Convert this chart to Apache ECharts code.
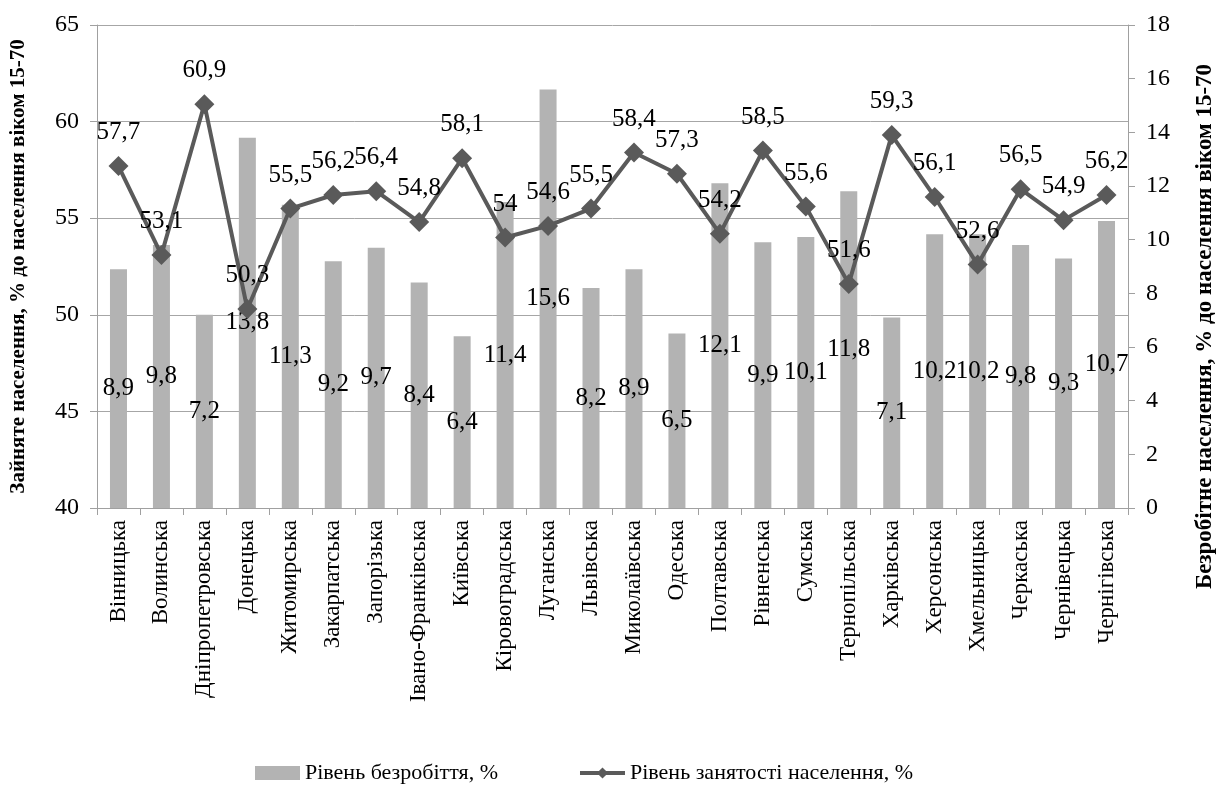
<!DOCTYPE html>
<html>
<head>
<meta charset="utf-8">
<script src="https://cdn.jsdelivr.net/npm/echarts@6/dist/echarts.min.js"></script>
<style>
  html, body { margin: 0; padding: 0; background: #fff; }
  #chart { width: 1225px; height: 792px; }
</style>
</head>
<body>
<div id="chart"></div>
<script>
// області
var regions = ["Вінницька", "Волинська", "Дніпропетровська", "Донецька", "Житомирська",
  "Закарпатська", "Запорізька", "Івано-Франківська", "Київська", "Кіровоградська",
  "Луганська", "Львівська", "Миколаївська", "Одеська", "Полтавська", "Рівненська",
  "Сумська", "Тернопільська", "Харківська", "Херсонська", "Хмельницька", "Черкаська",
  "Чернівецька", "Чернігівська"];

// рівень безробіття, %
var unemployment = [8.9, 9.8, 7.2, 13.8, 11.3, 9.2, 9.7, 8.4, 6.4, 11.4, 15.6, 8.2,
  8.9, 6.5, 12.1, 9.9, 10.1, 11.8, 7.1, 10.2, 10.2, 9.8, 9.3, 10.7];

// рівень зайнятості населення, %
var employment = [57.7, 53.1, 60.9, 50.3, 55.5, 56.2, 56.4, 54.8, 58.1, 54, 54.6, 55.5,
  58.4, 57.3, 54.2, 58.5, 55.6, 51.6, 59.3, 56.1, 52.6, 56.5, 54.9, 56.2];

var font = 'Liberation Serif';
var commaFmt = function (p) { return String(p.value).replace('.', ','); };

var chart = echarts.init(document.getElementById('chart'));
var option = {
  backgroundColor: '#fff',
  animation: false,
  textStyle: { fontFamily: font, color: '#000' },
  grid: { left: 93, right: 87, top: 25, bottom: 284 },
  legend: {
    bottom: 3,
    left: 250,
    itemGap: 80,
    itemWidth: 45,
    itemHeight: 14,
    lineStyle: { width: 4 },
    textStyle: { fontFamily: font, fontSize: 22, color: '#000' },
    data: [
      { name: 'Рівень безробіття, %', icon: 'rect' },
      { name: 'Рівень занятості населення, %' }
    ]
  },
  xAxis: {
    type: 'category',
    data: regions,
    boundaryGap: true,
    axisLine: { lineStyle: { color: '#a0a0a0' } },
    axisTick: { show: true, length: 7, lineStyle: { color: '#a0a0a0' } },
    axisLabel: { rotate: 90, fontSize: 23, color: '#000', fontFamily: font, margin: 12 }
  },
  yAxis: [
    {
      type: 'value',
      min: 40, max: 65, interval: 5,
      name: 'Зайняте населення, % до населення віком 15-70',
      nameLocation: 'middle',
      nameGap: 68,
      nameTextStyle: { fontFamily: font, fontSize: 21, fontWeight: 'bold', color: '#000' },
      axisLine: { show: true, lineStyle: { color: '#a0a0a0' } },
      axisTick: { show: true, length: 7, lineStyle: { color: '#a0a0a0' } },
      axisLabel: { fontSize: 24, color: '#000', fontFamily: font, margin: 18 },
      splitLine: { show: true, lineStyle: { color: '#a6a6a6', width: 1 } }
    },
    {
      type: 'value',
      min: 0, max: 18, interval: 2,
      name: 'Безробітне населення, % до населення віком 15-70',
      nameLocation: 'middle',
      nameGap: 66,
      nameTextStyle: {
        fontFamily: font, fontSize: 23, fontWeight: 'bold', color: '#000',
        padding: [0, 120, 0, 0]
      },
      axisLine: { show: true, lineStyle: { color: '#a0a0a0' } },
      axisTick: { show: true, length: 7, lineStyle: { color: '#a0a0a0' } },
      axisLabel: { fontSize: 24, color: '#000', fontFamily: font, margin: 18 },
      splitLine: { show: false }
    }
  ],
  series: [
    {
      name: 'Рівень безробіття, %',
      type: 'bar',
      yAxisIndex: 1,
      barWidth: 17,
      itemStyle: { color: '#b3b3b3' },
      label: {
        show: true,
        position: 'inside',
        color: '#000',
        fontFamily: font,
        fontSize: 25,
        formatter: commaFmt
      },
      data: unemployment
    },
    {
      name: 'Рівень занятості населення, %',
      type: 'line',
      yAxisIndex: 0,
      symbol: 'diamond',
      symbolSize: 20,
      lineStyle: { color: '#5a5a5a', width: 4 },
      itemStyle: { color: '#5a5a5a' },
      label: {
        show: true,
        position: 'top',
        distance: 11,
        color: '#000',
        fontFamily: font,
        fontSize: 25,
        formatter: commaFmt
      },
      z: 5,
      data: employment
    }
  ]
};
chart.setOption(option);
</script>
</body>
</html>
